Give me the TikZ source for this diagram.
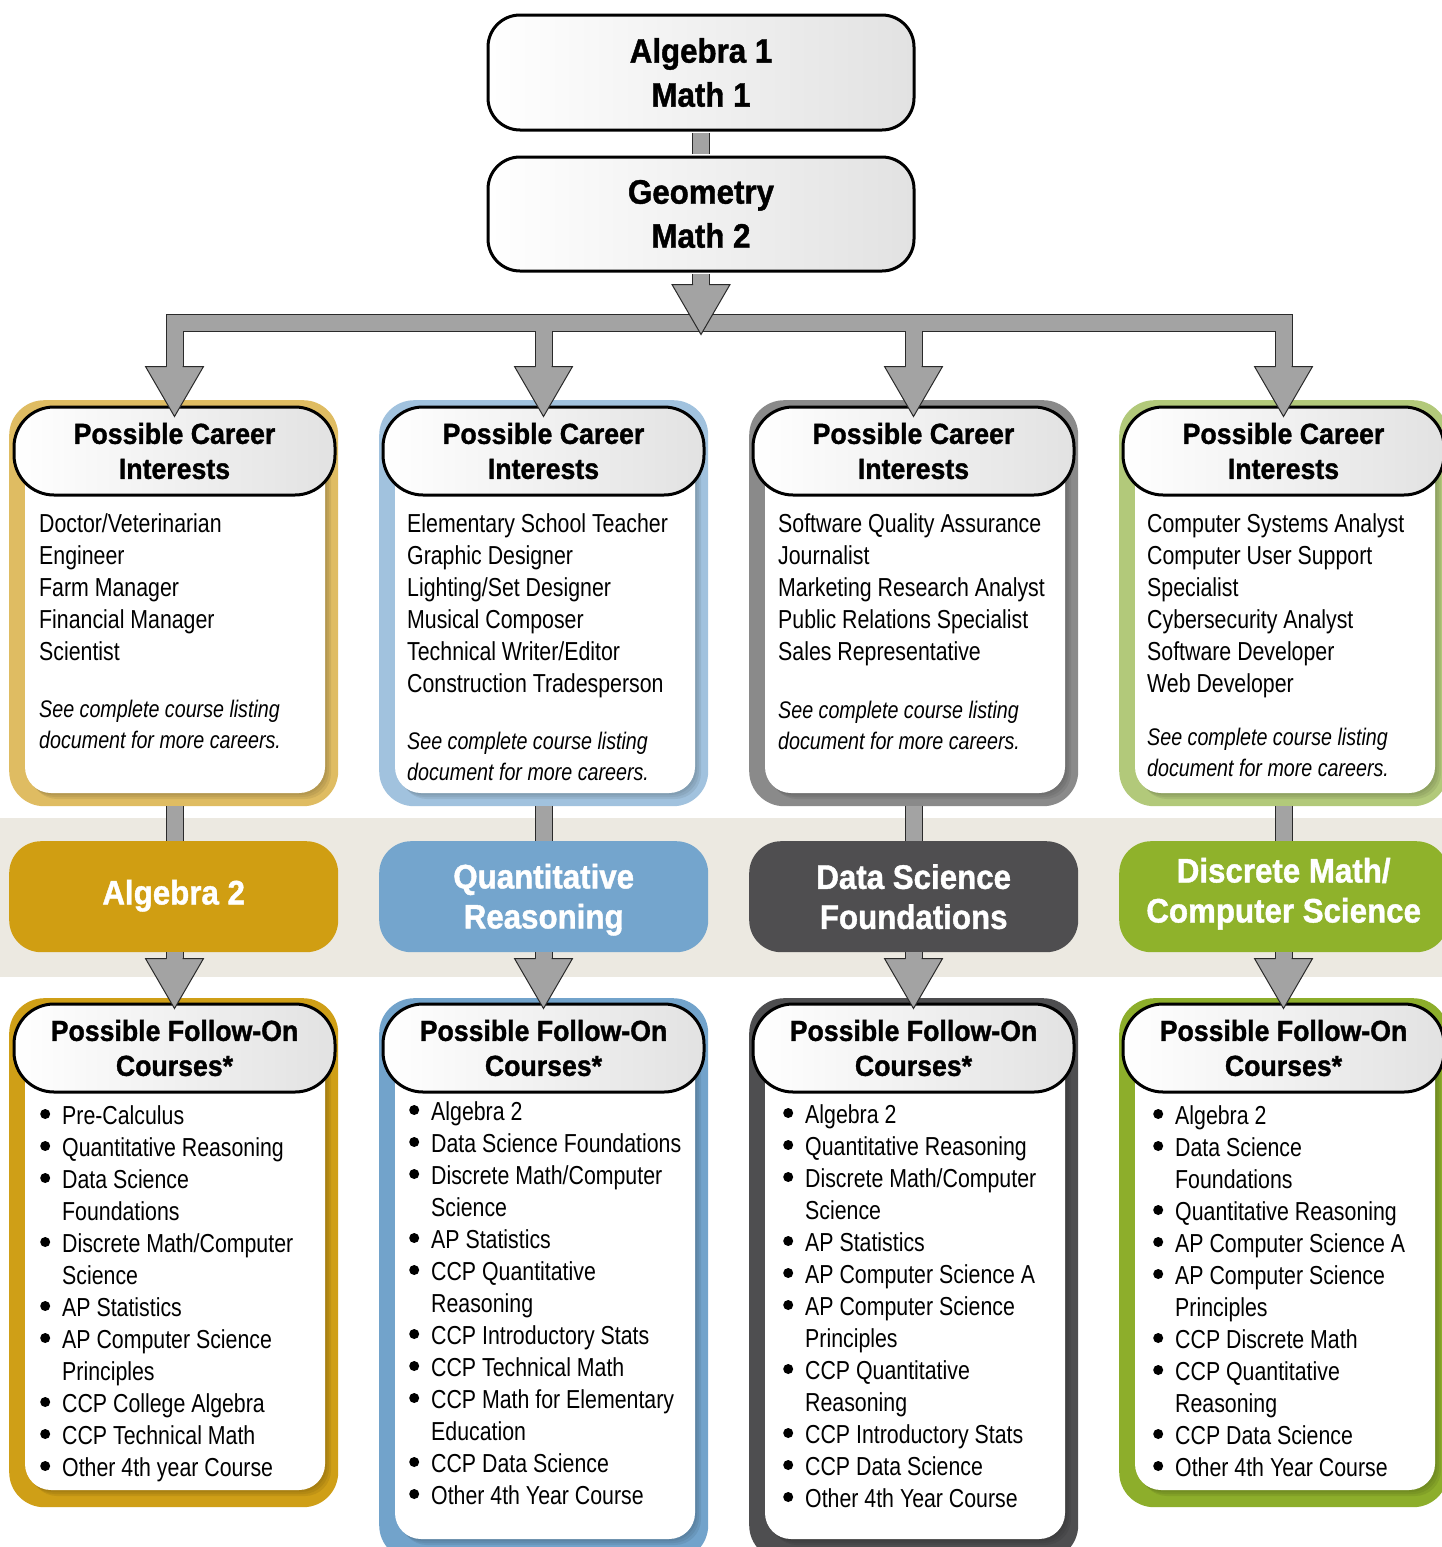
\documentclass[tikz,border=0pt]{standalone}
\usepackage{fontspec}
\newfontfamily\bodyfont[FakeStretch=0.82]{Liberation Sans}
\newfontfamily\headfont[FakeStretch=0.92,FakeBold=1.2]{Liberation Sans}
\usetikzlibrary{calc}
\definecolor{bandbg}{HTML}{ECE9E1}
\definecolor{arrgray}{HTML}{A3A3A3}
\definecolor{arrline}{HTML}{2A2A2A}
\definecolor{hdgray}{HTML}{E2E2E2}
\definecolor{cgold}{HTML}{DFBC62}
\definecolor{cblue}{HTML}{A1C2DE}
\definecolor{cgray}{HTML}{8A8A8A}
\definecolor{cgreen}{HTML}{B2C97A}
\definecolor{fgold}{HTML}{CF9F17}
\definecolor{fblue}{HTML}{72A3CB}
\definecolor{fgray}{HTML}{4E4E50}
\definecolor{fgreen}{HTML}{8DAE2B}
\definecolor{balg}{HTML}{D09E12}
\definecolor{bqr}{HTML}{74A5CD}
\definecolor{bdsf}{HTML}{4F4E50}
\definecolor{bdm}{HTML}{8FB22B}
\tikzset{
  txt/.style={font=\bodyfont\fontsize{26}{32}\selectfont, inner sep=0pt, anchor=base west},
  itx/.style={font=\bodyfont\itshape\fontsize{24}{31}\selectfont, inner sep=0pt, anchor=base west},
  hdrbox/.style={draw=black, line width=3pt, rounded corners=40pt, left color=white, right color=hdgray,
    minimum width=321pt, minimum height=88pt, inner sep=0pt, align=center,
    font=\headfont\bfseries\fontsize{29}{35}\selectfont},
  topbox/.style={draw=black, line width=3pt, rounded corners=32pt, left color=white, right color=hdgray,
    minimum width=426pt, minimum height=114pt, inner sep=0pt, align=center,
    font=\headfont\bfseries\fontsize{34}{44}\selectfont},
  panelframe/.style={rounded corners=35pt, minimum width=329pt, inner sep=0pt, anchor=north west},
  bandbox/.style={rounded corners=32pt, minimum width=329pt, minimum height=111pt, inner sep=0pt,
    text=white, align=center, anchor=north west, font=\headfont\bfseries\fontsize{34}{40}\selectfont},
  bandtxt/.style={text=white, align=center, inner sep=0pt, font=\headfont\bfseries\fontsize{34}{40}\selectfont},
  cout/.style={draw=arrline, line width=18pt, line join=miter},
  cfill/.style={draw=arrgray, line width=16pt, line join=miter},
}
\newcommand\bul{\makebox[22pt][l]{\tikz[baseline=-10pt]\fill (5pt,0pt) circle[radius=5pt];}}
\newcommand\ind{\hspace*{22pt}}
% #1 name, #2 L, #3 top, #4 bottom, #5 inner bottom, #6 colour
\newcommand\panel[6]{%
  \node[panelframe, fill=#6, minimum height={#4-#3}] (#1) at (#2,#3) {};
  \foreach \d in {2,4,6}
    \fill[#6!55!black, opacity=0.16, rounded corners=26pt] ({#2+16+\d},{#3+30+\d}) rectangle ({#2+316+\d},{#5+\d});
  \fill[white, rounded corners=26pt] ({#2+16},{#3+30}) rectangle ({#2+316},{#5});
}
% #1 name, #2 x, #3 first baseline, #4 step, #5 style, #6 list
\newcommand\txtlines[6]{%
  \foreach \itm [count=\i] in {#6}
    \node[#5] (#1-\i) at (#2,{#3+#4*(\i-1)}) {\itm};
}
\newcommand\arrhead[1]{%
  \fill[arrgray] ($(#1)+(-29,-50)$) -- (#1) -- ($(#1)+(29,-50)$) -- cycle;
  \draw[arrline, line width=1pt, line join=miter] ($(#1)+(-8,-50)$) -- ($(#1)+(-29,-50)$) -- (#1) -- ($(#1)+(29,-50)$) -- ($(#1)+(8,-50)$);
}
\begin{document}
\begin{tikzpicture}[x=1pt,y=-1pt]
\useasboundingbox (0,0) rectangle (1442,1547);
\clip (0,0) rectangle (1442,1547);
\fill[white] (0,0) rectangle (1442,1547);
\fill[bandbg] (0,818) rectangle (1442,977);

% panels
\panel{cf1}{9}{400}{806}{793}{cgold}
\panel{cf2}{379}{400}{806}{793}{cblue}
\panel{cf3}{749}{400}{806}{793}{cgray}
\panel{cf4}{1119}{400}{806}{793}{cgreen}
\panel{ff1}{9}{998}{1507}{1490}{fgold}
\panel{ff2}{379}{998}{1560}{1539}{fblue}
\panel{ff3}{749}{998}{1560}{1539}{fgray}
\panel{ff4}{1119}{998}{1507}{1490}{fgreen}

% headers
\node[hdrbox] (h1) at (174.5,451) {Possible Career\\Interests};
\node[hdrbox] (h2) at (543.5,451) {Possible Career\\Interests};
\node[hdrbox] (h3) at (913.5,451) {Possible Career\\Interests};
\node[hdrbox] (h4) at (1283.5,451) {Possible Career\\Interests};
\node[hdrbox] (f1) at (174.5,1048) {Possible Follow-On\\Courses*};
\node[hdrbox] (f2) at (543.5,1048) {Possible Follow-On\\Courses*};
\node[hdrbox] (f3) at (913.5,1048) {Possible Follow-On\\Courses*};
\node[hdrbox] (f4) at (1283.5,1048) {Possible Follow-On\\Courses*};

% band boxes
\node[bandbox, fill=balg] (b1) at (9,841) {};
\node[bandbox, fill=bqr] (b2) at (379,841) {};
\node[bandbox, fill=bdsf] (b3) at (749,841) {};
\node[bandbox, fill=bdm] (b4) at (1119,841) {};
\node[bandtxt] (bt1) at ($(b1.center)+(0,-1)$) {Algebra 2};
\node[bandtxt] (bt2) at ($(b2.center)+(0,3)$) {Quantitative\\Reasoning};
\node[bandtxt] (bt3) at ($(b3.center)+(0,0)$) {Data Science\\Foundations};
\node[bandtxt] (bt4) at ($(b4.center)+(0,-3)$) {Discrete Math/\\Computer Science};

% top boxes
\node[topbox, minimum height=115pt] (a1) at (701,72.5) {Algebra 1\\Math 1};
\node[topbox] (g2) at (701,214) {Geometry\\Math 2};

% connector coordinates
\coordinate (gt) at ($(g2.south)+(0,62)$);
\coordinate (gb) at ($(gt)+(0,-50)$);
\foreach \k in {1,...,4}{
  \coordinate (t\k) at ($(h\k.north)+(0,11)$);
  \coordinate (s\k) at ($(t\k)+(0,-50)$);
  \coordinate (r\k) at ($(t\k)+(0,-93.5)$);
  \coordinate (u\k) at ($(f\k.north)+(0,6)$);
  \coordinate (v\k) at ($(u\k)+(0,-50)$);
}
\foreach \st in {cout,cfill}{
  \draw[\st, shorten <=1.5pt, shorten >=1.5pt] (a1.south) -- (g2.north);
  \draw[\st, shorten <=1.5pt] (g2.south) -- (gb);
  \draw[\st] (s1) -- (r1) -- (r4) -- (s4);
  \draw[\st] (r2) -- (s2);
  \draw[\st] (r3) -- (s3);
  \foreach \k in {1,...,4}{
    \draw[\st] (cf\k.south -| t\k) -- (b\k.north -| t\k);
    \draw[\st] (b\k.south -| u\k) -- (v\k);
  }
}
\foreach \k in {1,...,4}{\arrhead{t\k}\arrhead{u\k}}
\arrhead{gt}

% career texts
\txtlines{c1}{39}{532}{32}{txt}{Doctor/Veterinarian,Engineer,Farm Manager,Financial Manager,Scientist}
\txtlines{i1}{39}{717}{31}{itx}{See complete course listing,document for more careers.}
\txtlines{c2}{407}{532}{32}{txt}{Elementary School Teacher,Graphic Designer,Lighting/Set Designer,Musical Composer,Technical Writer/Editor,Construction Tradesperson}
\txtlines{i2}{407}{749}{31}{itx}{See complete course listing,document for more careers.}
\txtlines{c3}{778}{532}{32}{txt}{Software Quality Assurance,Journalist,Marketing Research Analyst,Public Relations Specialist,Sales Representative}
\txtlines{i3}{778}{718}{31}{itx}{See complete course listing,document for more careers.}
\txtlines{c4}{1147}{532}{32}{txt}{Computer Systems Analyst,Computer User Support,Specialist,Cybersecurity Analyst,Software Developer,Web Developer}
\txtlines{i4}{1147}{745}{31}{itx}{See complete course listing,document for more careers.}

% follow-on lists
\txtlines{l1}{40}{1124}{32}{txt}{\bul Pre-Calculus,\bul Quantitative Reasoning,\bul Data Science,\ind Foundations,\bul Discrete Math/Computer,\ind Science,\bul AP Statistics,\bul AP Computer Science,\ind Principles,\bul CCP College Algebra,\bul CCP Technical Math,\bul Other 4th year Course}
\txtlines{l2}{409}{1120}{32}{txt}{\bul Algebra 2,\bul Data Science Foundations,\bul Discrete Math/Computer,\ind Science,\bul AP Statistics,\bul CCP Quantitative,\ind Reasoning,\bul CCP Introductory Stats,\bul CCP Technical Math,\bul CCP Math for Elementary,\ind Education,\bul CCP Data Science,\bul Other 4th Year Course}
\txtlines{l3}{783}{1123}{32}{txt}{\bul Algebra 2,\bul Quantitative Reasoning,\bul Discrete Math/Computer,\ind Science,\bul AP Statistics,\bul AP Computer Science A,\bul AP Computer Science,\ind Principles,\bul CCP Quantitative,\ind Reasoning,\bul CCP Introductory Stats,\bul CCP Data Science,\bul Other 4th Year Course}
\txtlines{l4}{1153}{1124}{32}{txt}{\bul Algebra 2,\bul Data Science,\ind Foundations,\bul Quantitative Reasoning,\bul AP Computer Science A,\bul AP Computer Science,\ind Principles,\bul CCP Discrete Math,\bul CCP Quantitative,\ind Reasoning,\bul CCP Data Science,\bul Other 4th Year Course}
\end{tikzpicture}
\end{document}
